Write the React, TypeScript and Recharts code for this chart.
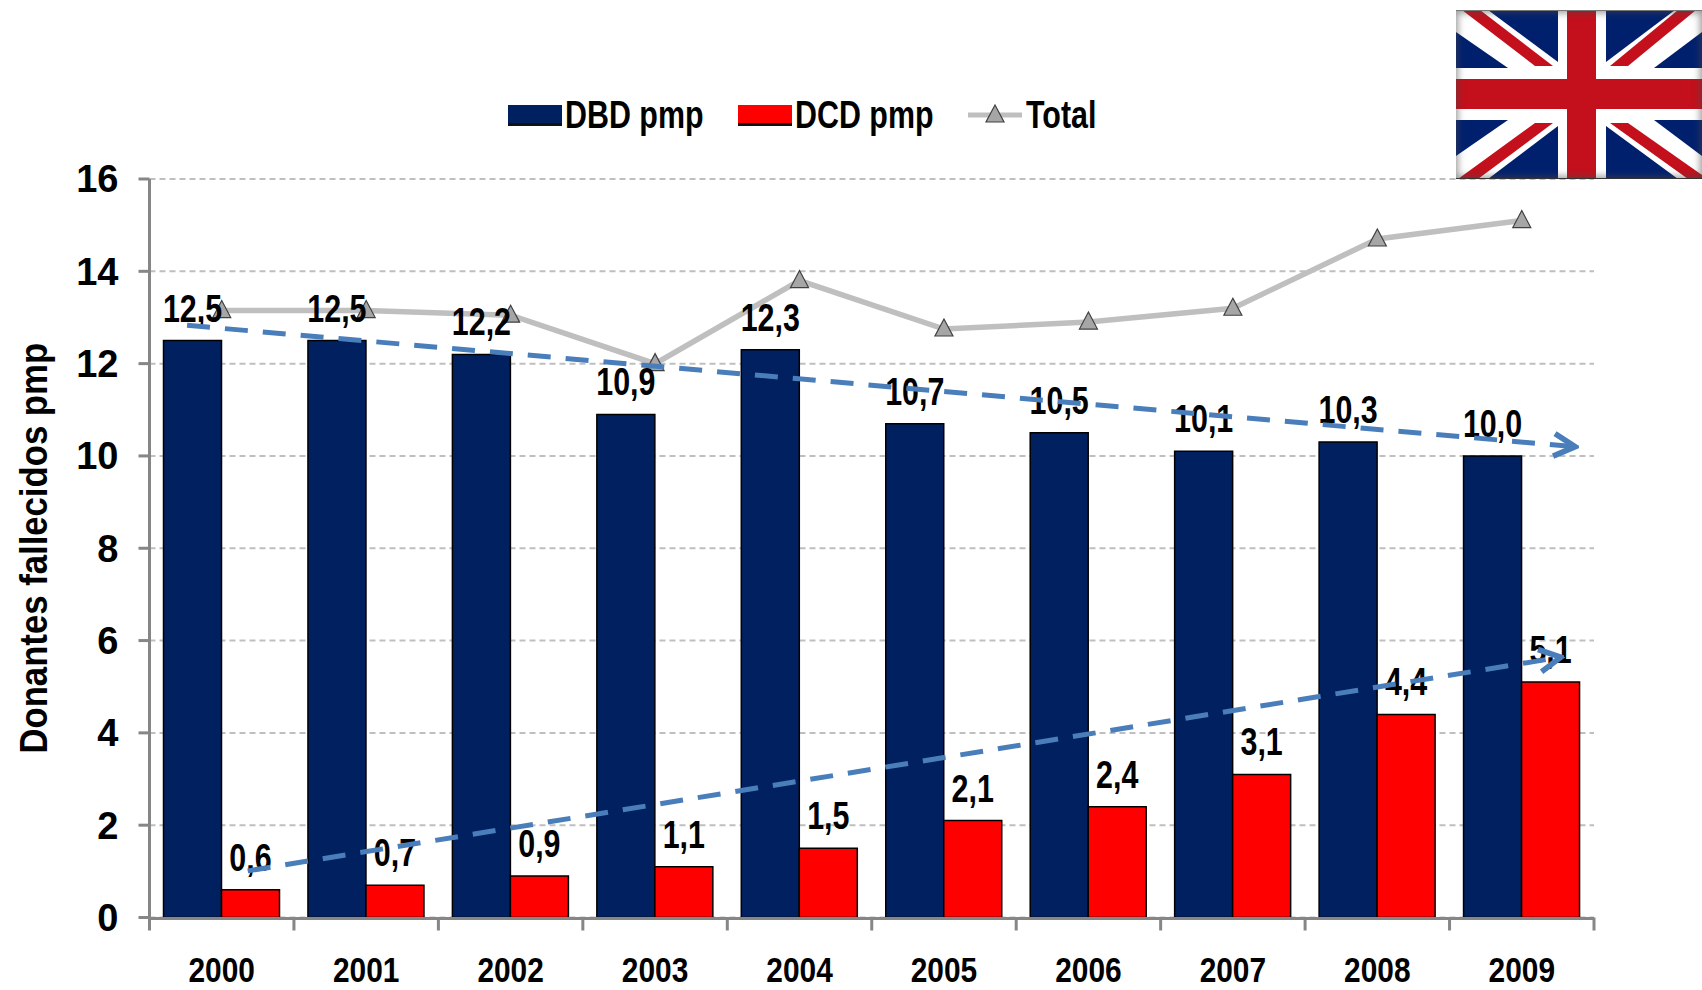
import { Bar, CartesianGrid, ComposedChart, Label, LabelList, Legend, Line, XAxis, YAxis } from 'recharts';

const years = ['2000', '2001', '2002', '2003', '2004', '2005', '2006', '2007', '2008', '2009'];
const dbdValues = [12.5, 12.5, 12.2, 10.9, 12.3, 10.7, 10.5, 10.1, 10.3, 10.0];
const dcdValues = [0.6, 0.7, 0.9, 1.1, 1.5, 2.1, 2.4, 3.1, 4.4, 5.1];
const totalValues = [13.15, 13.15, 13.05, 12.0, 13.8, 12.75, 12.9, 13.2, 14.7, 15.1];
const yTicks = [0, 2, 4, 6, 8, 10, 12, 14, 16];
const boundaryTicks = [0, 1, 2, 3, 4, 5, 6, 7, 8, 9, 10];

// trend arrows, x counted in categories from the left edge of the plot
const trendDbd = [{ x: 0.26, y: 12.83 }, { x: 9.87, y: 10.2 }];
const trendDcd = [{ x: 0.68, y: 1.01 }, { x: 9.77, y: 5.64 }];

const chartData = years.map((year, i) => ({
  year,
  dbd: dbdValues[i],
  dcd: dcdValues[i],
  total: totalValues[i],
}));

const NAVY = '#002060';
const RED = '#ff0000';
const FONT = '"Liberation Sans", Arial, sans-serif';
const formatValue = (v: any) => Number(v).toFixed(1).replace('.', ',');

// the source uses a condensed bold face, so the text is squeezed sideways
function NarrowText({ x, y, size = 38, squeeze = 0.8, rotate = 0, children }: any) {
  return (
    <text
      transform={`translate(${x},${y}) rotate(${rotate}) scale(${squeeze},1)`}
      textAnchor="middle"
      fontFamily={FONT}
      fontWeight={700}
      fontSize={size}
      fill="#000"
    >
      {children}
    </text>
  );
}

function YearTick({ x, y, payload }: any) {
  return <NarrowText x={x} y={y + 25} size={36} squeeze={0.83}>{payload.value}</NarrowText>;
}

function ValueLabel({ x, y, width, value }: any) {
  return <NarrowText x={x + width / 2} y={y - 19}>{formatValue(value)}</NarrowText>;
}

function AxisTitle({ viewBox }: any) {
  return (
    <NarrowText x={47} y={viewBox.y + viewBox.height / 2} size={39} squeeze={0.89} rotate={-90}>
      Donantes fallecidos pmp
    </NarrowText>
  );
}

function TriangleDot({ cx, cy }: any) {
  return <polygon points={`${cx},${cy - 10} ${cx + 9},${cy + 7} ${cx - 9},${cy + 7}`} fill="#a6a6a6" stroke="#404040" strokeWidth={1.2} />;
}

function LegendText({ width, children }: any) {
  return (
    <span style={{ display: 'inline-block', width, whiteSpace: 'nowrap', transform: 'scaleX(0.8)', transformOrigin: 'left center' }}>{children}</span>
  );
}

function LegendContent({ payload }: any) {
  const items = (payload || []).filter((p: any) => p.value === 'DBD pmp' || p.value === 'DCD pmp' || p.value === 'Total');
  return (
    <div style={{ display: 'flex', alignItems: 'center', fontFamily: FONT, fontWeight: 700, fontSize: 38, color: '#000', lineHeight: '40px' }}>
      {items.map((p: any) => (
        <div key={p.value} style={{ display: 'flex', alignItems: 'center', marginRight: 35 }}>
          {p.value === 'Total' ? (
            <svg width={54} height={30} style={{ marginRight: 4 }}>
              <line x1={0} y1={15} x2={54} y2={15} stroke="#bfbfbf" strokeWidth={5} />
              <TriangleDot cx={27} cy={15} />
            </svg>
          ) : (
            <div style={{ width: 54, height: 18, background: p.color, borderBottom: '3px solid #111', marginRight: 3 }} />
          )}
          <LegendText width={p.value === 'Total' ? 72 : 138}>{p.value}</LegendText>
        </div>
      ))}
    </div>
  );
}

function UkFlag() {
  return (
    <div style={{ position: 'absolute', left: 1456, top: 10, width: 246, height: 169 }}>
      <svg width={246} height={169} style={{ display: 'block' }}>
        <rect width={246} height={169} fill="#ffffff" />
        <g fill="#00206e">
          <polygon points="32,0 102,0 102,52" />
          <polygon points="150,0 219,0 150,52" />
          <polygon points="0,22 0,58 52,58" />
          <polygon points="246,22 246,58 198,58" />
          <polygon points="0,110 0,146 52,110" />
          <polygon points="246,110 246,146 198,110" />
          <polygon points="102,116 102,169 32,169" />
          <polygon points="150,116 150,169 222,169" />
        </g>
        <g fill="#c4101c">
          <rect x={111} width={29} height={169} />
          <rect y={69} width={246} height={30} />
          <polygon points="6,0 24,0 97,56 79,56" />
          <polygon points="240,0 222,0 154,56 172,56" />
          <polygon points="79,113 97,113 22,169 2,169" />
          <polygon points="154,113 172,113 246,165 246,169 232,169" />
        </g>
      </svg>
      <div style={{ position: 'absolute', inset: 0, boxShadow: 'inset 0 0 7px 2px rgba(70,70,70,0.55)', borderTop: '1px solid #777', borderBottom: '1px solid #333' }} />
    </div>
  );
}

export default function App() {
  return (
    <div style={{ position: 'absolute', left: 0, top: 0, width: 1702, height: 990, background: '#fff' }}>
      <ComposedChart
        width={1702}
        height={990}
        data={chartData}
        margin={{ top: 179, right: 108, bottom: 0, left: 0 }}
        barCategoryGap={14}
        barGap={0}
      >
        <defs>
          <marker id="openArrow" viewBox="0 0 24 24" markerUnits="userSpaceOnUse" markerWidth={30} markerHeight={30} refX={21} refY={12} orient="auto">
            <path d="M4 3 L21 12 L4 21" fill="none" stroke="#4a7ebb" strokeWidth={4.5} strokeDasharray="none" />
          </marker>
        </defs>
        <CartesianGrid horizontal vertical={false} xAxisId="year" stroke="#bfbfbf" strokeWidth={2} strokeDasharray="6 4" />
        <XAxis
          xAxisId="trend"
          type="number"
          dataKey="x"
          domain={[0, 10]}
          ticks={boundaryTicks}
          interval={0}
          height={1}
          axisLine={false}
          tick={() => <g />}
          tickSize={13}
          stroke="#868686"
          strokeWidth={3}
          allowDataOverflow
        />
        <XAxis
          xAxisId="year"
          dataKey="year"
          height={71.5}
          tickLine={false}
          interval={0}
          stroke="#868686"
          strokeWidth={3}
          tickMargin={32}
          tick={<YearTick />}
        />
        <YAxis
          width={149.5}
          domain={[0, 16]}
          ticks={yTicks}
          interval={0}
          tickSize={11}
          tickMargin={20}
          stroke="#868686"
          strokeWidth={3}
          tick={{ fontFamily: FONT, fontWeight: 700, fontSize: 38, fill: '#000' }}
        >
          <Label content={<AxisTitle />} />
        </YAxis>
        <Bar xAxisId="year" dataKey="dbd" name="DBD pmp" fill={NAVY} stroke="#000" strokeWidth={1.5} isAnimationActive={false}>
          <LabelList dataKey="dbd" content={<ValueLabel />} />
        </Bar>
        <Bar xAxisId="year" dataKey="dcd" name="DCD pmp" fill={RED} stroke="#000" strokeWidth={1.5} isAnimationActive={false}>
          <LabelList dataKey="dcd" content={<ValueLabel />} />
        </Bar>
        <Line xAxisId="year" dataKey="total" name="Total" stroke="#bfbfbf" strokeWidth={5.5} dot={<TriangleDot />} activeDot={false} isAnimationActive={false} />
        <Line xAxisId="trend" data={trendDbd} dataKey="y" name="trendDbd" legendType="none" stroke="#4a7ebb" strokeWidth={5} strokeDasharray="23 15" dot={false} activeDot={false} markerEnd="url(#openArrow)" zIndex={2100} isAnimationActive={false} />
        <Line xAxisId="trend" data={trendDcd} dataKey="y" name="trendDcd" legendType="none" stroke="#4a7ebb" strokeWidth={5} strokeDasharray="23 15" dot={false} activeDot={false} markerEnd="url(#openArrow)" zIndex={2100} isAnimationActive={false} />
        <Legend content={<LegendContent />} wrapperStyle={{ position: 'absolute', left: 508, top: 95, width: 800, height: 0, bottom: 'auto' }} />
      </ComposedChart>
      <UkFlag />
    </div>
  );
}
